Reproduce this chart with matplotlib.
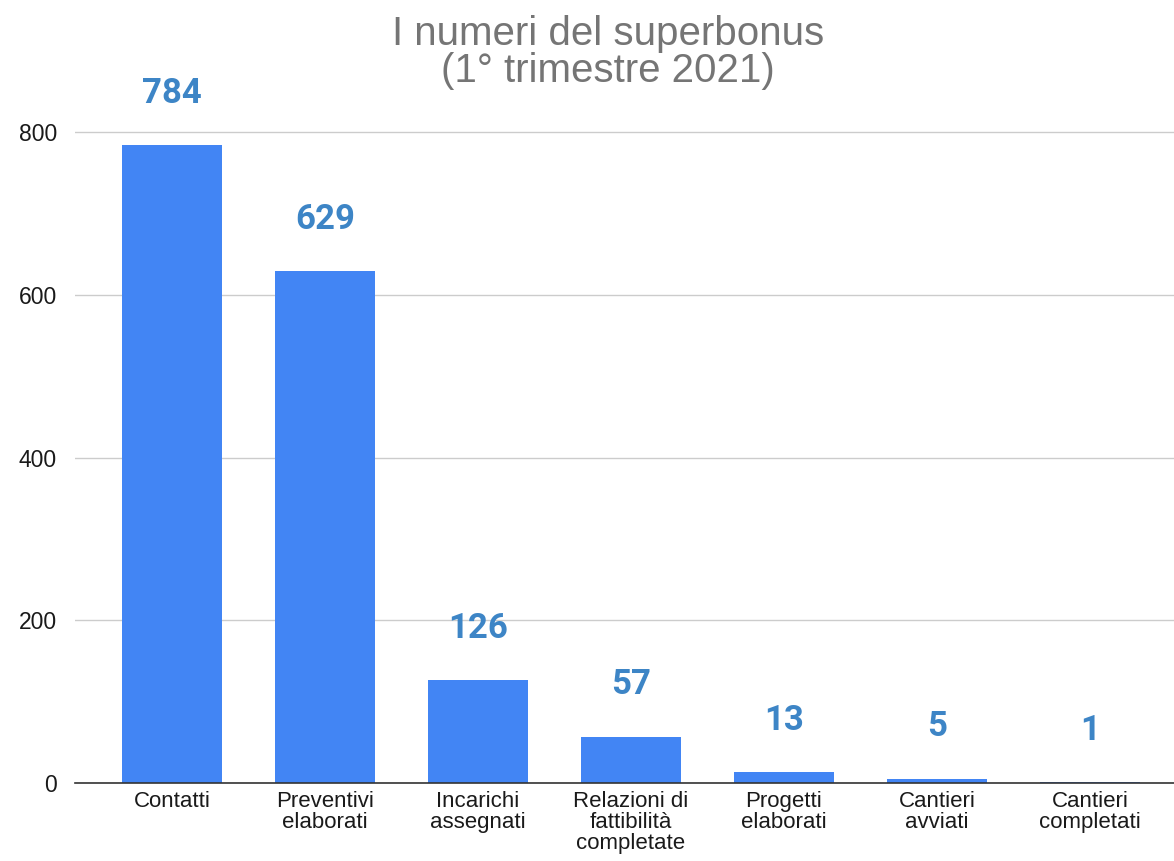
import matplotlib
matplotlib.use("Agg")
import matplotlib.pyplot as plt

categories = ["Contatti", "Preventivi\nelaborati", "Incarichi\nassegnati",
              "Relazioni di\nfattibilità\ncompletate", "Progetti\nelaborati",
              "Cantieri\navviati", "Cantieri\ncompletati"]
values = [784, 629, 126, 57, 13, 5, 1]
yticks = [0, 200, 400, 600, 800]

fig = plt.figure(figsize=(11.74, 8.61), dpi=100)
ax = fig.add_axes([0.064, 0.0906, 0.936, 0.8504])
x = list(range(len(categories)))
ax.bar(x, values, width=0.65, color="#4285f4", zorder=3)
ax.set_xlim(-0.634, 6.55)
ax.set_ylim(0, 900)
ax.set_yticks(yticks)
ax.set_yticklabels([str(v) for v in yticks], fontsize=16.5, color="#1a1a1a", family="Liberation Sans")
ax.set_xticks(x)
ax.set_xticklabels(categories, fontsize=16, color="#1a1a1a", family="Liberation Sans", linespacing=0.98)
ax.tick_params(axis="x", length=0, pad=6)
ax.tick_params(axis="y", length=0, pad=13)
for s in ["top", "right", "left"]:
    ax.spines[s].set_visible(False)
ax.spines["bottom"].set_color("#333333")
ax.spines["bottom"].set_linewidth(1.2)
ax.spines["bottom"].set_zorder(4)
ax.grid(axis="y", color="#cccccc", linewidth=1, zorder=0)
ax.set_axisbelow(True)

for xi, v in zip(x, values):
    ax.annotate(str(v), (xi, v), xytext=(0, 37.5), textcoords="offset points",
                ha="center", va="center", fontsize=25, fontweight="bold",
                color="#3d85c6", family="Roboto")

fig.text(0.518, 0.939, "I numeri del superbonus\n(1° trimestre 2021)", ha="center", va="center",
         fontsize=29, color="#757575", family="Liberation Sans", linespacing=0.97)

fig.savefig("out.png", dpi=100)
